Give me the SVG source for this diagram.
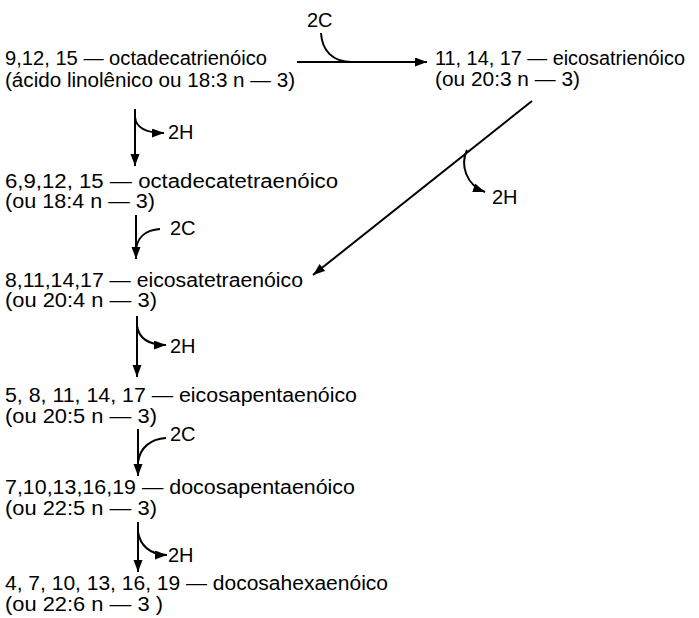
<svg xmlns="http://www.w3.org/2000/svg" width="699" height="618" viewBox="0 0 699 618">
<style>
text{font-family:"Liberation Sans",Arial,sans-serif;font-size:20px;fill:#000}
.c{fill:none;stroke:#000;stroke-width:2}
</style>
<defs>
<marker id="ah" markerUnits="userSpaceOnUse" markerWidth="13" markerHeight="10" refX="12" refY="4.5" orient="auto">
<path d="M0,0 L12,4.5 L0,9 z" fill="#000"/>
</marker>
</defs>
<rect width="699" height="618" fill="#fff"/>
<g id="n1"><text x="5" y="65" textLength="262" lengthAdjust="spacingAndGlyphs">9,12, 15 — octadecatrienóico</text><text x="5" y="87" textLength="290" lengthAdjust="spacingAndGlyphs">(ácido linolênico ou 18:3 n — 3)</text></g>
<g id="n2"><text x="435" y="65" textLength="250" lengthAdjust="spacingAndGlyphs">11, 14, 17 — eicosatrienóico</text><text x="435" y="86" textLength="145" lengthAdjust="spacingAndGlyphs">(ou 20:3 n — 3)</text></g>
<g id="n3"><text x="5" y="188" textLength="333" lengthAdjust="spacingAndGlyphs">6,9,12, 15 — octadecatetraenóico</text><text x="5" y="208" textLength="150" lengthAdjust="spacingAndGlyphs">(ou 18:4 n — 3)</text></g>
<g id="n4"><text x="5" y="287" textLength="298" lengthAdjust="spacingAndGlyphs">8,11,14,17 — eicosatetraenóico</text><text x="5" y="307" textLength="152" lengthAdjust="spacingAndGlyphs">(ou 20:4 n — 3)</text></g>
<g id="n5"><text x="5" y="402" textLength="352" lengthAdjust="spacingAndGlyphs">5, 8, 11, 14, 17 — eicosapentaenóico</text><text x="5" y="423" textLength="152" lengthAdjust="spacingAndGlyphs">(ou 20:5 n — 3)</text></g>
<g id="n6"><text x="5" y="494" textLength="350" lengthAdjust="spacingAndGlyphs">7,10,13,16,19 — docosapentaenóico</text><text x="5" y="515" textLength="152" lengthAdjust="spacingAndGlyphs">(ou 22:5 n — 3)</text></g>
<g id="n7"><text x="5" y="590" textLength="383" lengthAdjust="spacingAndGlyphs">4, 7, 10, 13, 16, 19 — docosahexaenóico</text><text x="5" y="611" textLength="158" lengthAdjust="spacingAndGlyphs">(ou 22:6 n — 3 )</text></g>
<g id="connectors">
<path class="c" d="M297,62 H427" marker-end="url(#ah)"/>
<path class="c" d="M321,33 C322,50 332,62 352,62"/>
<text x="307" y="27">2C</text>
<path class="c" d="M135,109 V166" marker-end="url(#ah)"/>
<path class="c" d="M135,117 C136,128 145,133 164,133" marker-end="url(#ah)"/>
<text x="168" y="139">2H</text>
<path class="c" d="M136,215 V259" marker-end="url(#ah)"/>
<path class="c" d="M160,229 C145,230 137,238 136,250"/>
<text x="170" y="235">2C</text>
<path class="c" d="M532,101 L313,275" marker-end="url(#ah)"/>
<path class="c" d="M467,150 C460,165 466,185 485,192" marker-end="url(#ah)"/>
<text x="492" y="204">2H</text>
<path class="c" d="M137,316 V377" marker-end="url(#ah)"/>
<path class="c" d="M137,326 C139,338 148,345 166,345" marker-end="url(#ah)"/>
<text x="170" y="353">2H</text>
<path class="c" d="M138,429 V476" marker-end="url(#ah)"/>
<path class="c" d="M166,438 C150,439 140,448 138,462"/>
<text x="170" y="441">2C</text>
<path class="c" d="M138,522 V572" marker-end="url(#ah)"/>
<path class="c" d="M138,532 C140,545 150,555 167,555" marker-end="url(#ah)"/>
<text x="168" y="562">2H</text>
</g>
</svg>
